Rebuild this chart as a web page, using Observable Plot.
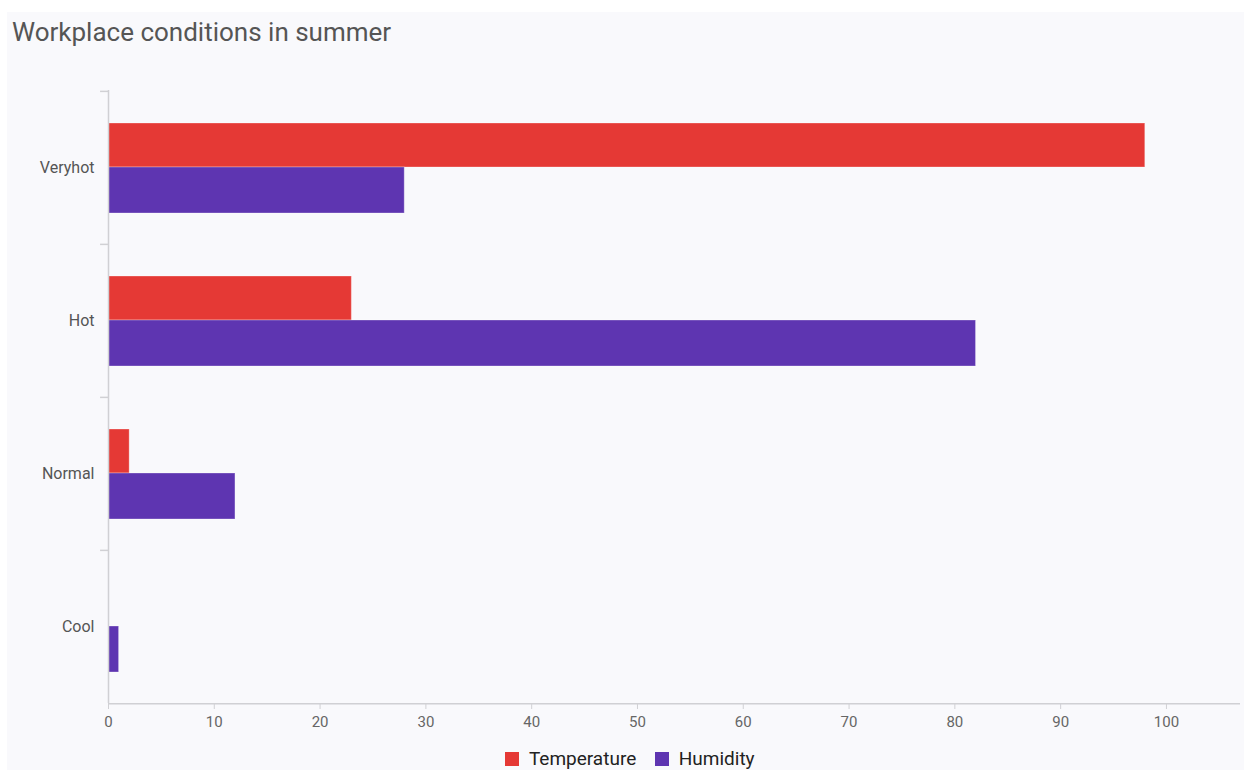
<!DOCTYPE html>
<html><head><meta charset="utf-8">
<script src="https://cdn.jsdelivr.net/npm/d3@7"></script>
<script src="https://cdn.jsdelivr.net/npm/@observablehq/plot@0.6"></script>
<style>
body{margin:0;background:#fff;font-family:Roboto,sans-serif;}
#panel{position:absolute;left:7px;top:12px;width:1237px;height:758px;background:#f9f9fc;}
#title{position:absolute;left:5px;top:7px;font-size:26px;line-height:26px;color:#555;}
#chart{position:absolute;left:0;top:48px;}
#legend{position:absolute;top:730px;left:14px;width:100%;display:flex;justify-content:center;}
</style></head>
<body>
<div id="panel">
  <div id="title">Workplace conditions in summer</div>
  <div id="chart"></div>
  <div id="legend"></div>
</div>
<script>
const categories = ["Veryhot", "Hot", "Normal", "Cool"];
const series = ["Temperature", "Humidity"];
const temperature = [98, 23, 2, 0];
const humidity = [28, 82, 12, 1];
const colors = ["#e53935", "#5e35b1"];
const xTicks = [0, 10, 20, 30, 40, 50, 60, 70, 80, 90, 100];

const data = [];
categories.forEach((c, i) => {
  data.push({category: c, series: "Temperature", value: temperature[i]});
  data.push({category: c, series: "Humidity", value: humidity[i]});
});

const width = 1237, height = 680, mTop = 30, mBottom = 37;
const band = (height - mTop - mBottom) / categories.length;

const chart = Plot.plot({
  width, height,
  marginTop: mTop, marginBottom: mBottom, marginLeft: 101, marginRight: 4,
  style: {background: "transparent", fontFamily: "Roboto, sans-serif"},
  x: {domain: [0, 107], ticks: xTicks},
  y: {domain: categories, padding: 0},
  color: {domain: series, range: colors},
  marks: [
    Plot.barX(data.filter(d => d.series === "Temperature"), {
      y: "category", x: "value", fill: "series",
      insetTop: 32, insetBottom: 77, stroke: "#fff", strokeOpacity: 0.3, strokeWidth: 1
    }),
    Plot.barX(data.filter(d => d.series === "Humidity"), {
      y: "category", x: "value", fill: "series",
      insetTop: 76, insetBottom: 31, stroke: "#fff", strokeOpacity: 0.3, strokeWidth: 1
    }),
    Plot.ruleX([0], {stroke: "#d0d0d4", strokeWidth: 1.5}),
    Plot.ruleY(categories, {y: d => d, dy: -band / 2, x1: -0.75, x2: 0, stroke: "#d0d0d4", strokeWidth: 1.5}),
    Plot.ruleY([categories[categories.length - 1]], {y: d => d, dy: band / 2, stroke: "#d0d0d4", strokeWidth: 1.5}),
    Plot.axisX({ticks: xTicks, tickSize: 6, tickPadding: 7, stroke: "#d0d0d4", fill: "#666", fontSize: 15, label: null}),
    Plot.axisY({tickSize: 0, tickPadding: 14, fill: "#555", fontSize: 16, label: null})
  ]
});
document.getElementById("chart").appendChild(chart);

const legend = Plot.legend({
  color: {domain: series, range: colors},
  swatchSize: 14,
  style: {fontSize: "19px", color: "#222", fontFamily: "Roboto, sans-serif", background: "transparent"}
});
document.getElementById("legend").appendChild(legend);
</script>
</body></html>
